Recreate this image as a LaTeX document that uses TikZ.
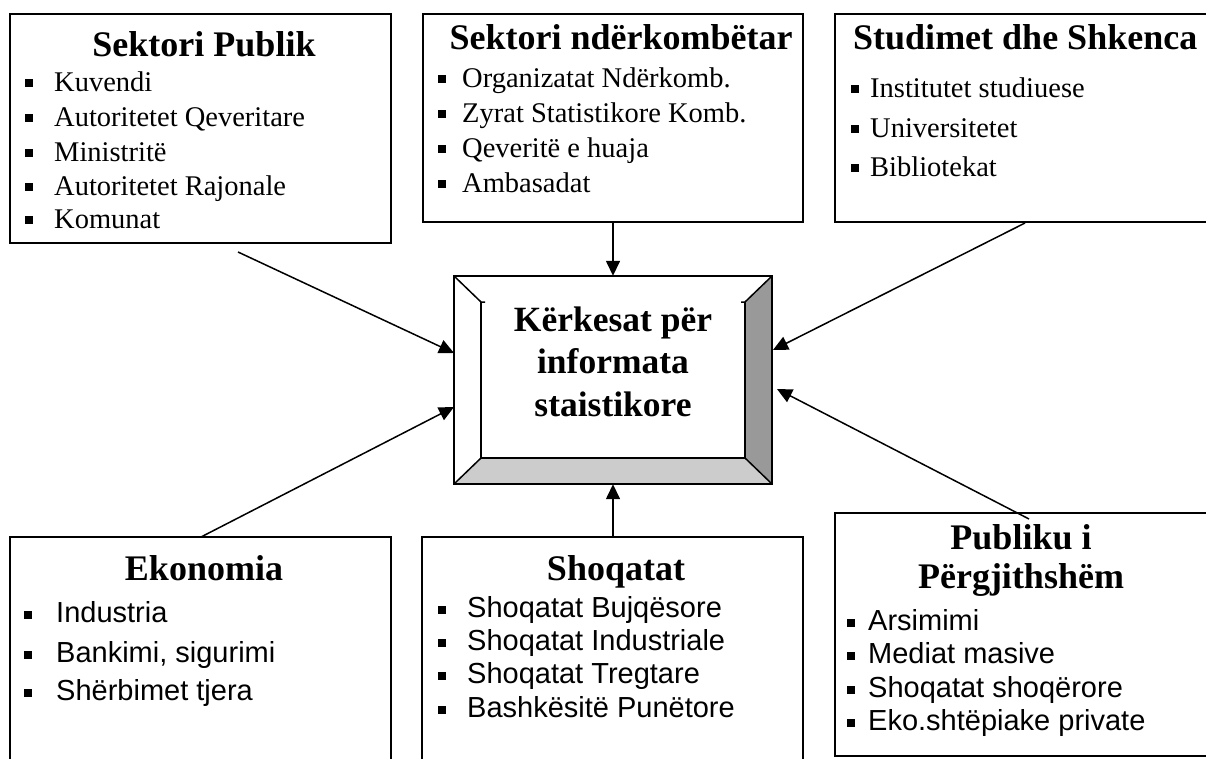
\documentclass[tikz,border=0pt]{standalone}
\usepackage{fontspec}
\setmainfont{Liberation Serif}
\newfontfamily\sansf{Liberation Sans}
\usetikzlibrary{arrows.meta}
\definecolor{bevR}{HTML}{999999}
\definecolor{bevB}{HTML}{CCCCCC}
\tikzset{
 box/.style={draw, line width=1.8pt, inner sep=0pt},
 ttl/.style={anchor=base, inner sep=0pt, font=\fontsize{36}{40}\selectfont\bfseries},
 itm/.style={anchor=base west, inner sep=0pt, font=\fontsize{28.5}{34}\selectfont},
 sitm/.style={anchor=base west, inner sep=0pt, font=\sansf\fontsize{29}{34}\selectfont},
 conn/.style={line width=1.5pt, -{Triangle[length=15pt,width=14pt]}},
 bev/.style={line width=1.5pt},
}
\newcommand\sq[2]{\fill (#1,#2-5) rectangle ++(7.5,-8);}
\newcommand\ssq[2]{\fill (#1,#2-3.5) rectangle ++(7.5,-7.5);}
\begin{document}
\begin{tikzpicture}[x=1pt,y=-1pt]
\clip (0,0) rectangle (1206,759);
\fill[white] (0,0) rectangle (1206,759);

% outer boxes
\node[box, minimum width=381pt, minimum height=229pt] (b1) at (200.5,128.5) {};
\node[box, minimum width=380pt, minimum height=208pt] (b2) at (613,118) {};
\node[box, minimum width=380pt, minimum height=208pt] (b3) at (1025,118) {};
\node[box, minimum width=381pt, minimum height=240pt] (b4) at (200.5,657) {};
\node[box, minimum width=381pt, minimum height=240pt] (b5) at (612.5,657) {};
\node[box, minimum width=380pt, minimum height=243pt] (b6) at (1025,634.5) {};

% titles
\node[ttl] (t1) at (204,57) {Sektori Publik};
\node[ttl] (t2) at (621,50) {Sektori ndërkombëtar};
\node[ttl, anchor=base west] (t3) at (853,50) {Studimet dhe Shkenca};
\node[ttl] (t4) at (204,580) {Ekonomia};
\node[ttl] (t5) at (616,580) {Shoqatat};
\node[ttl, align=center, font=\fontsize{36}{39}\selectfont\bfseries] (t6) at (1021,588) {Publiku i\\Përgjithshëm};

% box 1 items
\sq{25}{92}  \node[itm] (i11) at (54,92) {Kuvendi};
\sq{25}{127} \node[itm] (i12) at (54,127) {Autoritetet Qeveritare};
\sq{25}{162} \node[itm] (i13) at (54,162) {Ministritë};
\sq{25}{196} \node[itm] (i14) at (54,196) {Autoritetet Rajonale};
\sq{25}{229} \node[itm] (i15) at (54,229) {Komunat};

% box 2 items
\sq{438}{88}  \node[itm] (i21) at (462,88) {Organizatat Ndërkomb.};
\sq{438}{123} \node[itm] (i22) at (462,123) {Zyrat Statistikore Komb.};
\sq{438}{158} \node[itm] (i23) at (462,158) {Qeveritë e huaja};
\sq{438}{193} \node[itm] (i24) at (462,193) {Ambasadat};

% box 3 items
\sq{851}{98}  \node[itm] (i31) at (870,98) {Institutet studiuese};
\sq{851}{138} \node[itm] (i32) at (870,138) {Universitetet};
\sq{851}{177} \node[itm] (i33) at (870,177) {Bibliotekat};

% box 4 items
\ssq{24}{622} \node[sitm] (i41) at (56,622) {Industria};
\ssq{24}{662} \node[sitm] (i42) at (56,662) {Bankimi, sigurimi};
\ssq{24}{700} \node[sitm] (i43) at (56,700) {Shërbimet tjera};

% box 5 items
\ssq{438}{617} \node[sitm] (i51) at (467,617) {Shoqatat Bujqësore};
\ssq{438}{650} \node[sitm] (i52) at (467,650) {Shoqatat Industriale};
\ssq{438}{683} \node[sitm] (i53) at (467,683) {Shoqatat Tregtare};
\ssq{438}{717} \node[sitm] (i54) at (467,717) {Bashkësitë Punëtore};

% box 6 items
\ssq{847}{630} \node[sitm] (i61) at (868,630) {Arsimimi};
\ssq{847}{663} \node[sitm] (i62) at (868,663) {Mediat masive};
\ssq{847}{697} \node[sitm] (i63) at (868,697) {Shoqatat shoqërore};
\ssq{847}{730} \node[sitm] (i64) at (868,730) {Eko.shtëpiake private};

% central bevel box
\node[inner sep=0pt, minimum width=318pt, minimum height=208pt] (c) at (613,380) {};
\coordinate (inw) at (481,302);
\coordinate (ine) at (745,302);
\coordinate (isw) at (481,458);
\coordinate (ise) at (745,458);
\fill[bevR] (c.north east) -- (ine) -- (ise) -- (c.south east) -- cycle;
\fill[bevB] (c.south west) -- (isw) -- (ise) -- (c.south east) -- cycle;
\draw[bev] (c.north west) -- (inw) -- ++(4,0);
\draw[bev] (c.north east) -- (ine) -- ++(-4,0);
\draw[bev] (inw) -- (isw) -- (ise) -- (ine);
\draw[bev] (c.south west) -- (isw);
\draw[bev] (c.south east) -- (ise);
\draw[line width=1.8pt] (c.north west) rectangle (c.south east);
\node[align=center, anchor=base, inner sep=0pt, font=\fontsize{35.5}{42.5}\selectfont\bfseries] (ct) at (613,416) {Kërkesat për\\informata\\staistikore};

% connectors
\coordinate (s1) at (238,252);  \coordinate (e1) at (454,353);
\coordinate (s3) at (1025,223); \coordinate (e3) at (773,350);
\coordinate (s4) at (201,537);  \coordinate (e4) at (454,407);
\coordinate (s6) at (1029,519); \coordinate (e6) at (777,389);
\draw[conn] (s1) -- (e1);
\draw[conn] (b2.south) -- (c.north);
\draw[conn] (s3) -- (e3);
\draw[conn] (s4) -- (e4);
\draw[conn] (b5.north -| c.south) -- (c.south);
\draw[conn] (s6) -- (e6);
\end{tikzpicture}
\end{document}
